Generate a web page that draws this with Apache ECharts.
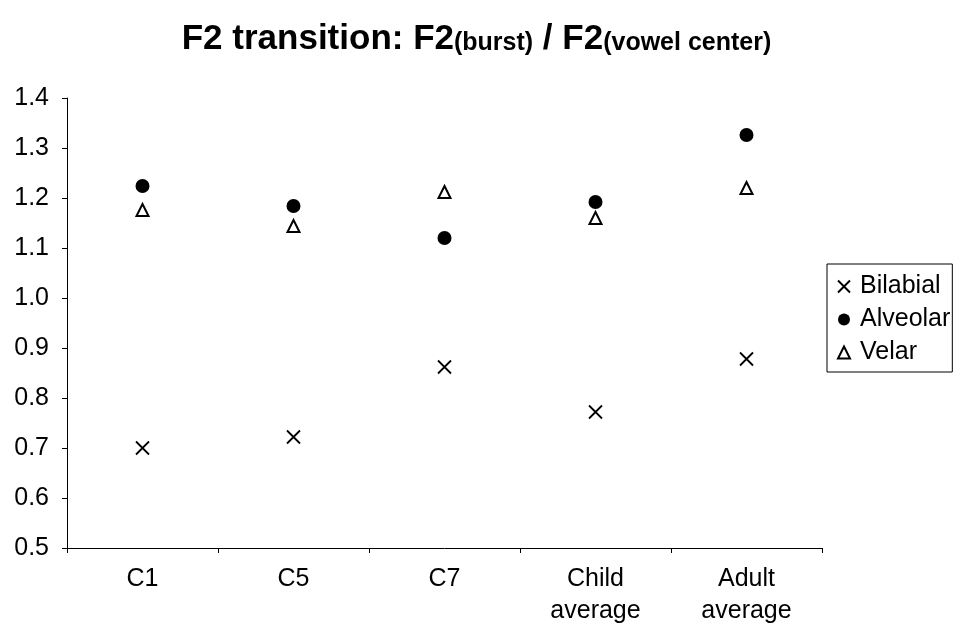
<!DOCTYPE html>
<html>
<head>
<meta charset="utf-8">
<script src="https://cdn.jsdelivr.net/npm/echarts@6/dist/echarts.min.js"></script>
<style>
  html, body { margin: 0; padding: 0; background: #fff; }
  #main { width: 953px; height: 629px; }
</style>
</head>
<body>
<div id="main"></div>
<script>
// categories and values
const categories = ['C1', 'C5', 'C7', 'Child\naverage', 'Adult\naverage'];
const bilabial = [0.70, 0.722, 0.862, 0.772, 0.878];
const alveolar = [1.224, 1.184, 1.12, 1.192, 1.326];
const velar = [1.176, 1.144, 1.212, 1.16, 1.22];

const font = 'Liberation Sans, Arial, sans-serif';
const crossPath = 'path://M0,0L10,10M10,0L0,10';

let chart = echarts.init(document.getElementById('main'));

let option = {
  backgroundColor: '#fff',
  animation: false,
  title: {
    left: 'center',
    top: 17,
    text: '{b|F2 transition: F2}{s|(burst)}{b| / F2}{s|(vowel center)}',
    textStyle: {
      rich: {
        b: { fontFamily: font, fontWeight: 'bold', fontSize: 35, color: '#000' },
        s: { fontFamily: font, fontWeight: 'bold', fontSize: 25, color: '#000', padding: [8, 0, 0, 0] }
      }
    }
  },
  legend: {
    orient: 'vertical',
    left: 827,
    top: 264,
    padding: [10, 2, 7, 10],
    itemGap: 8,
    itemWidth: 12,
    itemHeight: 12,
    borderColor: '#000',
    borderWidth: 1,
    textStyle: { fontFamily: font, fontSize: 25, lineHeight: 25, color: '#000', padding: [0, 0, 0, 5] },
    data: ['Bilabial', 'Alveolar', 'Velar']
  },
  grid: { left: 67, right: 131, top: 98, bottom: 81, containLabel: false },
  xAxis: {
    type: 'category',
    data: categories,
    boundaryGap: true,
    axisLine: { lineStyle: { color: '#000', width: 1 } },
    axisTick: { show: true, length: 5, lineStyle: { color: '#000' } },
    axisLabel: { fontFamily: font, fontSize: 25, color: '#000', margin: 15, lineHeight: 32 },
    splitLine: { show: false }
  },
  yAxis: {
    type: 'value',
    min: 0.5,
    max: 1.4,
    interval: 0.1,
    axisLine: { show: true, lineStyle: { color: '#000', width: 1 } },
    axisTick: { show: true, length: 5, lineStyle: { color: '#000' } },
    axisLabel: {
      fontFamily: font, fontSize: 25, color: '#000', margin: 18,
      formatter: function (v) { return v.toFixed(1); }
    },
    splitLine: { show: false }
  },
  series: [
    {
      name: 'Bilabial',
      type: 'scatter',
      data: bilabial,
      symbol: crossPath,
      symbolSize: 13,
      itemStyle: { color: 'transparent', borderColor: '#000', borderWidth: 1.8, opacity: 1 }
    },
    {
      name: 'Alveolar',
      type: 'scatter',
      data: alveolar,
      symbol: 'circle',
      symbolSize: 14,
      itemStyle: { color: '#000', opacity: 1 }
    },
    {
      name: 'Velar',
      type: 'scatter',
      data: velar,
      symbol: 'triangle',
      symbolSize: 12,
      itemStyle: { color: '#fff', borderColor: '#000', borderWidth: 2, opacity: 1 }
    }
  ]
};

chart.setOption(option);
</script>
</body>
</html>
